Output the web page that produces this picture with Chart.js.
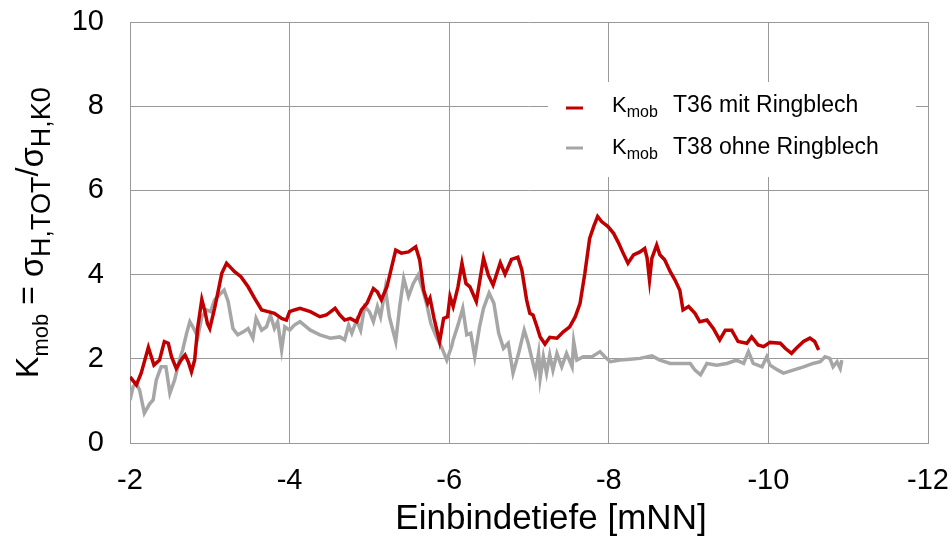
<!DOCTYPE html>
<html>
<head>
<meta charset="utf-8">
<script src="https://cdn.jsdelivr.net/npm/chart.js@4/dist/chart.umd.min.js"></script>
<style>
html,body{margin:0;padding:0;background:#fff;}
canvas{display:block;}
</style>
</head>
<body>
<canvas id="c" width="952" height="538"></canvas>
<script>
// ---- data ----
const xTicks = [-2, -4, -6, -8, -10, -12];
const yTicks = [0, 2, 4, 6, 8, 10];
const seriesNames = ["T36 mit Ringblech", "T38 ohne Ringblech"];
const seriesPrefix = ["K", "mob"];
const xTitle = "Einbindetiefe [mNN]";

const redDepth = [-2.00,-2.08,-2.14,-2.23,-2.30,-2.37,-2.43,-2.48,-2.52,-2.58,-2.64,-2.69,-2.73,-2.77,-2.81,-2.85,-2.90,-2.94,-2.97,-3.00,
-3.03,-3.06,-3.10,-3.15,-3.21,-3.25,-3.31,-3.39,-3.48,-3.56,-3.65,-3.73,-3.81,-3.90,-3.96,-4.00,-4.06,-4.13,-4.26,-4.38,
-4.46,-4.57,-4.63,-4.69,-4.76,-4.84,-4.90,-4.97,-5.05,-5.10,-5.15,-5.22,-5.28,-5.33,-5.40,-5.49,-5.58,-5.63,-5.68,-5.73,
-5.76,-5.81,-5.88,-5.93,-5.98,-6.01,-6.05,-6.11,-6.16,-6.21,-6.26,-6.34,-6.43,-6.49,-6.55,-6.64,-6.70,-6.78,-6.86,-6.91,
-6.97,-7.01,-7.05,-7.10,-7.14,-7.20,-7.26,-7.35,-7.43,-7.51,-7.58,-7.64,-7.70,-7.76,-7.81,-7.86,-7.91,-7.99,-8.06,-8.12,
-8.18,-8.24,-8.31,-8.39,-8.45,-8.48,-8.51,-8.54,-8.60,-8.64,-8.70,-8.77,-8.83,-8.89,-8.93,-9.00,-9.08,-9.14,-9.23,-9.31,
-9.39,-9.46,-9.54,-9.62,-9.73,-9.79,-9.87,-9.94,-10.02,-10.15,-10.21,-10.29,-10.35,-10.44,-10.52,-10.58,-10.63];
const redK = [1.57,1.38,1.66,2.27,1.85,1.97,2.41,2.37,2.05,1.77,1.97,2.09,1.93,1.69,1.97,2.76,3.41,3.12,2.84,2.72,
2.96,3.20,3.56,4.03,4.27,4.19,4.07,3.95,3.71,3.44,3.16,3.12,3.08,2.96,2.92,3.12,3.16,3.20,3.12,3.00,
3.04,3.20,3.04,2.92,2.96,2.88,3.16,3.32,3.67,3.59,3.40,3.71,4.19,4.58,4.51,4.54,4.66,4.35,3.63,3.32,
3.44,2.96,2.41,2.96,3.00,3.48,3.24,3.71,4.27,3.79,3.71,3.36,4.39,3.99,3.75,4.28,4.01,4.36,4.41,4.11,
3.40,3.08,3.04,2.76,2.52,2.35,2.51,2.49,2.64,2.76,3.00,3.32,4.03,4.86,5.14,5.38,5.26,5.14,4.98,4.76,
4.51,4.27,4.47,4.54,4.62,4.39,3.87,4.39,4.70,4.47,4.35,4.07,3.87,3.63,3.16,3.24,3.08,2.88,2.92,2.72,
2.45,2.68,2.68,2.41,2.37,2.52,2.33,2.29,2.39,2.37,2.25,2.13,2.25,2.41,2.49,2.41,2.21];

const grayDepth = [-2.00,-2.04,-2.08,-2.12,-2.18,-2.25,-2.29,-2.33,-2.39,-2.45,-2.50,-2.56,-2.62,-2.66,-2.71,-2.75,-2.81,-2.85,-2.90,-2.96,
-3.01,-3.06,-3.12,-3.18,-3.23,-3.29,-3.35,-3.42,-3.48,-3.54,-3.58,-3.65,-3.71,-3.76,-3.81,-3.85,-3.90,-3.94,-4.00,-4.06,
-4.13,-4.26,-4.38,-4.51,-4.63,-4.69,-4.74,-4.78,-4.84,-4.89,-4.94,-5.00,-5.05,-5.10,-5.14,-5.20,-5.25,-5.33,-5.38,-5.43,
-5.49,-5.55,-5.61,-5.67,-5.72,-5.77,-5.84,-5.91,-5.97,-6.03,-6.05,-6.11,-6.17,-6.22,-6.27,-6.32,-6.38,-6.43,-6.50,-6.56,
-6.62,-6.68,-6.74,-6.80,-6.87,-6.94,-6.99,-7.03,-7.08,-7.12,-7.14,-7.18,-7.22,-7.26,-7.30,-7.35,-7.41,-7.47,-7.54,-7.56,
-7.60,-7.68,-7.79,-7.89,-7.95,-8.02,-8.14,-8.27,-8.39,-8.54,-8.64,-8.77,-8.89,-9.02,-9.08,-9.15,-9.23,-9.35,-9.48,-9.60,
-9.69,-9.75,-9.81,-9.92,-9.98,-10.02,-10.12,-10.19,-10.31,-10.44,-10.56,-10.65,-10.71,-10.77,-10.81,-10.86,-10.90,-10.92];
const grayK = [1.02,1.34,1.42,1.26,0.71,0.94,1.02,1.50,1.81,1.81,1.18,1.50,1.97,2.21,2.61,2.88,2.68,2.52,3.00,3.16,
3.12,3.40,3.52,3.63,3.36,2.72,2.57,2.64,2.72,2.49,2.96,2.68,2.76,3.04,2.72,2.88,2.21,2.76,2.68,2.80,
2.88,2.68,2.57,2.49,2.52,2.45,2.80,2.61,2.92,2.68,3.24,3.12,2.88,3.24,3.00,3.67,3.00,2.41,3.24,3.91,
3.48,3.79,3.99,3.63,3.28,2.84,2.52,2.25,1.97,2.29,2.45,2.80,3.20,2.57,2.61,2.05,2.76,3.20,3.56,3.32,
2.61,2.25,2.37,1.66,2.13,2.68,2.37,2.05,1.66,2.13,1.54,2.05,1.66,2.09,1.73,2.13,1.81,2.13,1.81,2.41,
1.97,2.05,2.05,2.17,2.05,1.93,1.97,1.99,2.01,2.07,1.97,1.89,1.89,1.89,1.73,1.62,1.89,1.85,1.89,1.97,
1.89,2.17,1.89,1.81,2.05,1.85,1.73,1.66,1.73,1.81,1.89,1.93,2.05,2.01,1.81,1.93,1.77,1.97];

const colors = ["#c00000", "#a6a6a6"];

function toPoints(xs, ys){ return xs.map((x,i)=>({x:x, y:ys[i]})); }

const FONT = '"Liberation Sans", Arial, sans-serif';

function drawRich(ctx, parts, x, y, measureOnly){
  let cx = x;
  for (const p of parts){
    ctx.font = p.size + 'px ' + FONT;
    if (!measureOnly) ctx.fillText(p.t, cx, y + p.dy);
    cx += ctx.measureText(p.t).width;
  }
  return cx - x;
}

const overlay = {
  id: 'overlay',
  afterDraw(chart){
    const ctx = chart.ctx;
    const a = chart.chartArea;
    ctx.save();
    ctx.fillStyle = '#000';
    ctx.textBaseline = 'alphabetic';
    ctx.textAlign = 'left';

    // legend box
    const lx = a.left + 418, ly = a.top + 60;
    ctx.fillStyle = '#ffffff';
    ctx.fillRect(lx, ly, 368, 95);
    chart.data.datasets.forEach((ds, i) => {
      const rowY = ly + 26 + i * 40;
      ctx.strokeStyle = ds.borderColor;
      ctx.lineWidth = 3;
      ctx.beginPath();
      ctx.moveTo(lx + 18, rowY);
      ctx.lineTo(lx + 35, rowY);
      ctx.stroke();
      ctx.fillStyle = '#000';
      drawRich(ctx, [
        {t: seriesPrefix[0], size: 22, dy: 0},
        {t: seriesPrefix[1], size: 16, dy: 5}
      ], lx + 64, rowY + 4 + i*2);
      ctx.font = '23px ' + FONT;
      ctx.fillText(ds.label, lx + 125, rowY + 4 + i*2);
    });

    // x axis title
    ctx.fillStyle = '#000';
    ctx.font = '35px ' + FONT;
    ctx.textAlign = 'center';
    ctx.fillText(xTitle, (a.left + a.right) / 2 + 22, 529);

    // y axis title (rotated, with subscripts)
    ctx.textAlign = 'left';
    const parts = [
      {t: 'K', size: 32, dy: 0},
      {t: 'mob', size: 22, dy: 10},
      {t: ' = ', size: 32, dy: 0},
      {t: 'σ', size: 33, dy: 5},
      {t: 'H,TOT', size: 27, dy: 12},
      {t: '/', size: 32, dy: 0},
      {t: 'σ', size: 33, dy: 5},
      {t: 'H,K0', size: 27, dy: 12}
    ];
    const len = drawRich(ctx, parts, 0, 0, true);
    ctx.translate(38, (a.top + a.bottom) / 2);
    ctx.rotate(-Math.PI / 2);
    drawRich(ctx, parts, -len / 2, 0, false);
    ctx.restore();
  }
};

new Chart(document.getElementById('c'), {
  type: 'scatter',
  data: {
    datasets: [
      { label: seriesNames[0], data: toPoints(redDepth, redK), showLine: true,
        borderColor: colors[0], backgroundColor: colors[0], borderWidth: 3.5,
        pointRadius: 0, tension: 0 },
      { label: seriesNames[1], data: toPoints(grayDepth, grayK), showLine: true,
        borderColor: colors[1], backgroundColor: colors[1], borderWidth: 3.5,
        pointRadius: 0, tension: 0 }
    ]
  },
  options: {
    responsive: false,
    animation: false,
    layout: { padding: { left: 0, right: 24, top: 22, bottom: 0 } },
    plugins: { legend: { display: false }, tooltip: { enabled: false } },
    scales: {
      x: {
        type: 'linear', reverse: true, min: -12, max: -2,
        afterBuildTicks: s => { s.ticks = xTicks.map(v => ({value: v})); },
        afterFit: s => { s.height = 95; s.paddingLeft = 0; s.paddingRight = 0; s.paddingTop = 0; s.paddingBottom = 0; },
        grid: { color: '#999999', lineWidth: 1, drawTicks: false },
        border: { color: '#999999' },
        ticks: { color: '#000', padding: 21, font: { family: FONT, size: 29 },
                 maxRotation: 0, callback: v => String(v) }
      },
      y: {
        type: 'linear', min: 0, max: 10,
        afterBuildTicks: s => { s.ticks = yTicks.map(v => ({value: v})); },
        afterFit: s => { s.width = 130; s.paddingLeft = 0; s.paddingRight = 0; s.paddingTop = 0; s.paddingBottom = 0; },
        grid: { color: '#999999', lineWidth: 1, drawTicks: false },
        border: { color: '#999999' },
        ticks: { color: '#000', padding: 26, font: { family: FONT, size: 29 },
                 callback: v => String(v) }
      }
    }
  },
  plugins: [overlay]
});
</script>
</body>
</html>
